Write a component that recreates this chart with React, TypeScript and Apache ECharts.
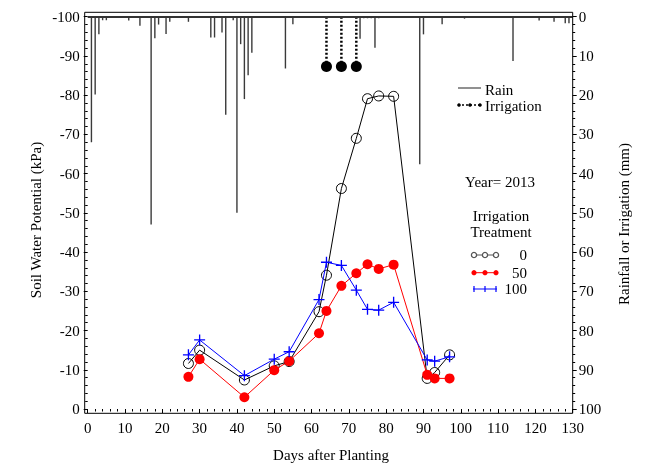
import React, { useEffect, useRef } from 'react';
import * as echarts from 'echarts';

const FONT = '"Liberation Serif", "Times New Roman", serif';

const xTicks = [0, 130, 10];
const rainDays = [1, 2, 3, 4, 5, 11, 14, 17, 18, 19, 21, 22, 27, 33, 34, 36, 37, 39, 40, 41, 42, 43, 44, 53, 55, 73, 74, 75, 76, 77, 78, 89, 90, 95, 101, 114, 121, 125, 128, 129];
const rainMm = [32, 19.8, 4.5, 0.9, 0.9, 1, 2.3, 53, 5.5, 2, 4.4, 1.3, 1.3, 5.3, 5.3, 4, 25, 0.9, 50, 7, 21, 14.9, 9.2, 13.2, 1.9, 5.6, 0.4, 0.4, 0.4, 7.9, 0.4, 37.6, 4.5, 1.9, 0.5, 11.3, 1, 1.3, 1.7, 1.7];
const irrDays = [64, 68, 72];
const irrMm = [12.7, 12.7, 12.7];

const swpDays = [27, 30, 42, 50, 54, 62, 64, 68, 72, 75, 78, 82, 91, 93, 97];
const swp0 = [-11.6, -15.0, -7.4, -11.0, -12.1, -24.8, -34.1, -56.2, -69.0, -79.1, -79.8, -79.7, -7.8, -9.3, -13.8];
const swp50 = [-8.2, -12.7, -3.0, -9.9, -12.2, -19.3, -25.0, -31.4, -34.6, -36.9, -35.7, -36.8, -8.7, -7.8, -7.8];
const swp100 = [-13.8, -17.6, -8.5, -12.7, -14.6, -27.9, -37.4, -36.6, -30.3, -25.4, -25.2, -27.2, -12.5, -12.2, -13.3];

const treatLabels = ['0', '50', '100'];
const PLUS = 'path://M4.4,0H5.6V4.4H10V5.6H5.6V10H4.4V5.6H0V4.4H4.4Z';

export default function App() {
  const ref = useRef<HTMLDivElement>(null);
  useEffect(() => {
    if (!ref.current) return;
    const chart = echarts.init(ref.current, null, { renderer: 'svg' });
    const zip = (xs: number[], ys: number[]) => xs.map((x, i) => [x, ys[i]]);
    const tickLabel = { fontFamily: FONT, fontSize: 15, color: '#000' };

    const irrSeries = irrDays.map((d, i) => ({
      type: 'line',
      yAxisIndex: 1,
      silent: true,
      z: 4,
      data: [
        { value: [d, 0], symbol: 'none' },
        { value: [d, irrMm[i]], symbol: 'circle', symbolSize: 11 },
      ],
      lineStyle: { color: '#000', width: 2.5, type: [2, 2] },
      itemStyle: { color: '#000' },
    }));

    const txt = (x: number, y: number, text: string, extra: any = {}) => ({
      type: 'text',
      x,
      y,
      silent: true,
      ...extra,
      style: {
        text,
        fontFamily: FONT,
        fontSize: 15,
        fill: '#000',
        textAlign: 'left',
        textVerticalAlign: 'middle',
        ...(extra.style || {}),
      },
    });

    const legendRow = (y: number, color: string, kind: string, label: string) => {
      const els: any[] = [
        { type: 'line', shape: { x1: 473, y1: y, x2: 497, y2: y }, style: { stroke: color, lineWidth: 1 } },
      ];
      [474, 485, 496].forEach((cx) => {
        if (kind === 'open') {
          els.push({ type: 'circle', shape: { cx, cy: y, r: 2.6 }, style: { fill: '#fff', stroke: color, lineWidth: 1.3 } });
        } else if (kind === 'dot') {
          els.push({ type: 'circle', shape: { cx, cy: y, r: 2.6 }, style: { fill: color } });
        } else {
          els.push({ type: 'line', shape: { x1: cx, y1: y - 3, x2: cx, y2: y + 3 }, style: { stroke: color, lineWidth: 1.2 } });
        }
      });
      els.push(txt(527, y, label, { style: { textAlign: 'right' } }));
      return els;
    };

    chart.setOption({
      animation: false,
      grid: { left: 87.7, right: 82.3, top: 16.7, bottom: 55 },
      xAxis: {
        type: 'value',
        min: xTicks[0],
        max: xTicks[1],
        interval: xTicks[2],
        offset: 4,
        axisLine: { show: false },
        axisTick: { show: true, length: 4, lineStyle: { color: '#000' } },
        minorTick: { show: true, splitNumber: 5, length: 2.5, lineStyle: { color: '#000' } },
        splitLine: { show: false },
        axisLabel: { ...tickLabel, margin: 7 },
      },
      yAxis: [
        {
          type: 'value',
          min: -100,
          max: 0,
          interval: 10,
          inverse: true,
          offset: 3,
          axisLine: { show: false },
          axisTick: { show: true, length: 4, lineStyle: { color: '#000' } },
          minorTick: { show: true, splitNumber: 5, length: 2.5, lineStyle: { color: '#000' } },
          splitLine: { show: false },
          axisLabel: { ...tickLabel, margin: 5 },
        },
        {
          type: 'value',
          position: 'right',
          min: 0,
          max: 100,
          interval: 10,
          inverse: true,
          axisLine: { show: false },
          axisTick: { show: true, length: 4, lineStyle: { color: '#000' } },
          minorTick: { show: true, splitNumber: 5, length: 2.5, lineStyle: { color: '#000' } },
          splitLine: { show: false },
          axisLabel: { ...tickLabel, margin: 6 },
        },
      ],
      series: [
        {
          type: 'bar',
          yAxisIndex: 1,
          barWidth: 1.4,
          silent: true,
          z: 3,
          itemStyle: { color: '#3a3a3a' },
          data: zip(rainDays, rainMm),
          markLine: {
            silent: true,
            symbol: 'none',
            label: { show: false },
            lineStyle: { color: '#333', width: 2.2, type: 'solid' },
            data: [{ yAxis: 0 }],
          },
        },
        ...irrSeries,
        {
          type: 'line',
          yAxisIndex: 0,
          data: zip(swpDays, swp0),
          symbol: 'circle',
          symbolSize: 10,
          z: 5,
          lineStyle: { color: '#000', width: 1 },
          itemStyle: { color: 'transparent', borderColor: '#000', borderWidth: 1 },
        },
        {
          type: 'line',
          yAxisIndex: 0,
          data: zip(swpDays, swp50),
          symbol: 'circle',
          symbolSize: 10,
          z: 6,
          lineStyle: { color: '#ff0000', width: 1 },
          itemStyle: { color: '#ff0000' },
        },
        {
          type: 'line',
          yAxisIndex: 0,
          data: zip(swpDays, swp100),
          symbol: PLUS,
          symbolSize: 11,
          z: 7,
          lineStyle: { color: '#0000ff', width: 1 },
          itemStyle: { color: '#0000ff' },
        },
      ],
      graphic: [
        {
          type: 'rect',
          silent: true,
          shape: { x: 84.7, y: 12.3, width: 488, height: 401 },
          style: { fill: 'none', stroke: '#000', lineWidth: 1 },
          z: 10,
        },
        txt(36, 220, 'Soil Water Potential (kPa)', { rotation: Math.PI / 2, style: { textAlign: 'center' } }),
        txt(624, 224, 'Rainfall or Irrigation (mm)', { rotation: Math.PI / 2, style: { textAlign: 'center' } }),
        txt(331, 455, 'Days after Planting', { style: { textAlign: 'center' } }),
        { type: 'line', shape: { x1: 458, y1: 88, x2: 481, y2: 88 }, style: { stroke: '#555', lineWidth: 1.3 } },
        txt(485, 90, 'Rain'),
        { type: 'line', shape: { x1: 458, y1: 105, x2: 481, y2: 105 }, style: { stroke: '#000', lineWidth: 1.3, lineDash: [2, 2] } },
        { type: 'circle', shape: { cx: 459, cy: 105, r: 1.8 }, style: { fill: '#000' } },
        { type: 'circle', shape: { cx: 470, cy: 105, r: 1.8 }, style: { fill: '#000' } },
        { type: 'circle', shape: { cx: 480, cy: 105, r: 1.8 }, style: { fill: '#000' } },
        txt(485, 106, 'Irrigation'),
        txt(500, 182, 'Year= 2013', { style: { textAlign: 'center' } }),
        txt(501, 216, 'Irrigation', { style: { textAlign: 'center' } }),
        txt(501, 232, 'Treatment', { style: { textAlign: 'center' } }),
        ...legendRow(255, '#555', 'open', treatLabels[0]),
        ...legendRow(272.7, '#ff0000', 'dot', treatLabels[1]),
        ...legendRow(289, '#0000ff', 'plus', treatLabels[2]),
      ],
    });
    return () => chart.dispose();
  }, []);
  return <div ref={ref} style={{ position: 'fixed', left: 0, top: 0, width: 655, height: 464 }} />;
}
